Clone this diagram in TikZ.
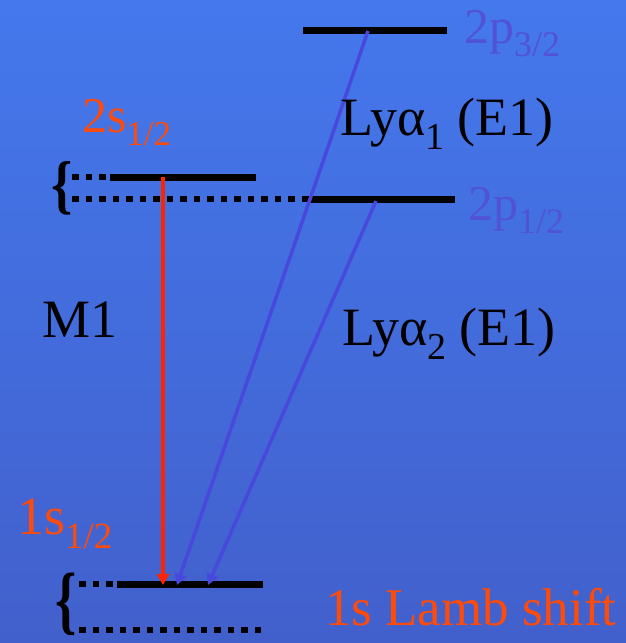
\documentclass[tikz,border=0pt]{standalone}
\usepackage{fontspec}
\setmainfont{Liberation Serif}
\usetikzlibrary{arrows.meta}
\definecolor{bgtop}{RGB}{68,120,236}
\definecolor{bgbot}{RGB}{66,96,204}
\definecolor{lblorange}{RGB}{255,75,10}
\definecolor{arrred}{RGB}{255,35,0}
\definecolor{lblblue}{RGB}{82,82,214}
\definecolor{arrblue}{RGB}{72,72,220}
\newcommand\lsub[2]{\raisebox{-0.27em}{\fontsize{#1}{#1}\selectfont #2}}
\begin{document}
\begin{tikzpicture}[x=1pt,y=-1pt,
  level/.style={line width=7pt},
  dotlevel/.style={line width=6.5pt, dash pattern=on 6.5pt off 7pt},
  lbl/.style={anchor=base west, inner sep=0pt, outer sep=0pt},
  big/.style={font=\fontsize{54}{54}\selectfont},
  mid/.style={font=\fontsize{50}{50}\selectfont},
  redarr/.style={draw=arrred, line width=3.5pt, -{Triangle[width=12pt,length=11pt]}},
  bluearr/.style={draw=arrblue, line width=3.5pt, -{Triangle[width=12pt,length=11pt]}},
  bracenode/.style={inner sep=0pt, outer sep=0pt, font=\fontsize{54}{54}\selectfont\bfseries}]
\shade[top color=bgtop, bottom color=bgbot] (0,0) rectangle (626,643);
\useasboundingbox (0,0) rectangle (626,643);
% level coordinates
\coordinate (p32L) at (303,30);  \coordinate (p32R) at (447,30);
\coordinate (p12L) at (307,199); \coordinate (p12R) at (455,199);
\coordinate (s2dL) at (72,177);  \coordinate (s2L) at (110,177); \coordinate (s2R) at (256,177);
\coordinate (s2bL) at (72,199);
\coordinate (s1dL) at (79,584);  \coordinate (s1L) at (117,584); \coordinate (s1R) at (263,584);
\coordinate (s1bL) at (79,630);  \coordinate (s1bR) at (263,630);
% levels
\draw[level] (p32L) -- (p32R);
\draw[level] (p12L) -- (p12R);
\draw[level] (s2L) -- (s2R);
\draw[dotlevel] (s2dL) -- (s2L);
\draw[dotlevel] (s2bL) -- (p12L);
\draw[level] (s1L) -- (s1R);
\draw[dotlevel] (s1dL) -- (s1L);
\draw[dotlevel] (s1bL) -- (s1bR);
% braces
\node[bracenode] (brtop) at (62,188) {\scalebox{1}[1.2]{\{}};
\node[bracenode] (brbot) at (66,604) {\scalebox{1}[1.4]{\{}};
% transitions
\coordinate (m1a) at (163,177); \coordinate (m1b) at (163,585);
\coordinate (ly1a) at (368,31); \coordinate (ly1b) at (177,585);
\coordinate (ly2a) at (376,201); \coordinate (ly2b) at (208,585);
\draw[bluearr] (ly1a) -- (ly1b);
\draw[bluearr] (ly2a) -- (ly2b);
\draw[redarr] (m1a) -- (m1b);
% labels
\node[lbl, mid, text=lblblue] (t2p32) at (464,43) {2p\lsub{36}{3/2}};
\node[lbl, mid, text=lblblue] (t2p12) at (468,220) {2p\lsub{36}{1/2}};
\node[lbl, big] (tly1) at (340,135) {Lyα\lsub{38}{1} (E1)};
\node[lbl, big] (tly2) at (342,345) {Lyα\lsub{38}{2} (E1)};
\node[lbl, mid, text=lblorange] (t2s) at (82,132) {2s\lsub{35}{1/2}};
\node[lbl, big] (tm1) at (42,337) {M1};
\node[lbl, big, text=lblorange] (t1s) at (17,534) {1s\lsub{37}{1/2}};
\node[lbl, font=\fontsize{53}{53}\selectfont, text=lblorange] (tlamb) at (325,625) {1s Lamb shift};
\end{tikzpicture}
\end{document}
